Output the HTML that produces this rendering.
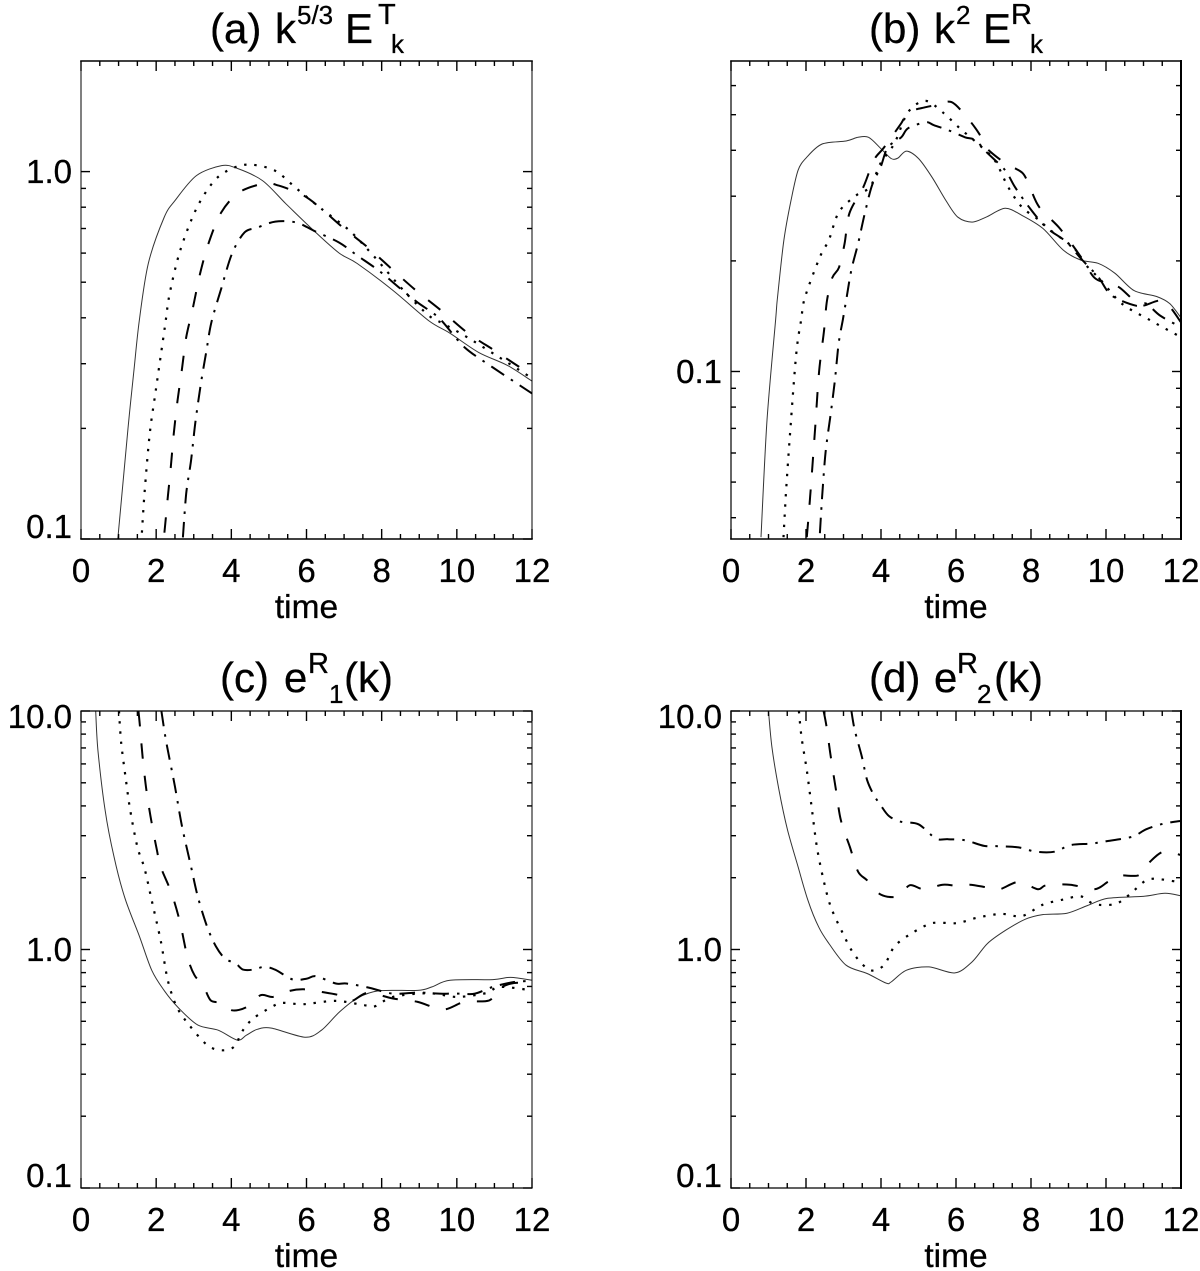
<!DOCTYPE html>
<html lang="en">
<head>
<meta charset="utf-8">
<title>Energy spectra time series</title>
<style>
html,body{margin:0;padding:0;background:#fff;}
svg{display:block;}
text{font-family:"Liberation Sans",Arial,sans-serif;fill:#000;stroke:#000;stroke-width:0.3px;}
.t{font-size:42px;}
.s{font-size:26px;}
.u{font-size:29px;}
</style>
</head>
<body>
<svg id="figure" width="1200" height="1271" viewBox="0 0 1200 1271" xmlns="http://www.w3.org/2000/svg">
<text class="t" y="43"><tspan x="210">(a)</tspan><tspan x="275">k</tspan><tspan class="s" x="297" y="24">5/3</tspan><tspan x="345" y="43">E</tspan><tspan class="u" x="378" y="24">T</tspan><tspan class="s" x="391" y="53">k</tspan></text>
<text class="t" y="43"><tspan x="869">(b)</tspan><tspan x="934">k</tspan><tspan class="s" x="956" y="24">2</tspan><tspan x="983" y="43">E</tspan><tspan class="u" x="1011" y="24">R</tspan><tspan class="s" x="1030" y="53">k</tspan></text>
<text class="t" y="692"><tspan x="220">(c)</tspan><tspan x="284">e</tspan><tspan class="u" x="308" y="673">R</tspan><tspan class="s" x="329" y="703">1</tspan><tspan x="344" y="692">(k)</tspan></text>
<text class="t" y="692"><tspan x="869">(d)</tspan><tspan x="934">e</tspan><tspan class="u" x="957" y="673">R</tspan><tspan class="s" x="977" y="703">2</tspan><tspan x="994" y="692">(k)</tspan></text>
</svg>
<script>
// Shared axis labels
const xTickLabels = [0, 2, 4, 6, 8, 10, 12];
const xMinorTicks = [0.5, 1, 1.5, 2.5, 3, 3.5, 4.5, 5, 5.5, 6.5, 7, 7.5, 8.5, 9, 9.5, 10.5, 11, 11.5];
const xAxisTitle = 'time';

// Panel (a) y ticks
const aYMajor = [0.1, 1];
const aYLabels = ['0.1', '1.0'];
const aYMinor = [0.2, 0.3, 0.4, 0.5, 0.6, 0.7, 0.8, 0.9];

// Panel (a) series
const aSolidT = [0.98, 1.25, 1.4, 1.55, 1.79, 2.21, 2.5, 3.07, 3.74, 4.16, 4.83, 5.45, 6.2, 6.87, 7.35, 8.3, 9.25, 9.82, 10.58, 11.34, 12];
const aSolidV = [0.1, 0.2, 0.282, 0.393, 0.562, 0.75, 0.834, 0.975, 1.038, 1.02, 0.945, 0.818, 0.69, 0.6, 0.562, 0.475, 0.393, 0.363, 0.322, 0.297, 0.269];
const aDotT = [1.62, 1.69, 1.83, 1.99, 2.23, 2.36, 2.64, 3.07, 3.55, 4.02, 4.5, 5.16, 5.73, 6.39, 7.15, 7.82, 8.58, 9.25, 9.63, 10.2, 11.05, 12];
const aDotV = [0.104, 0.133, 0.194, 0.254, 0.377, 0.466, 0.61, 0.793, 0.945, 1.02, 1.045, 1.006, 0.9, 0.793, 0.69, 0.584, 0.475, 0.406, 0.386, 0.358, 0.316, 0.274];
const aDashT = [2.22, 2.31, 2.39, 2.47, 2.57, 2.69, 2.8, 2.98, 3.17, 3.4, 3.73, 4.2, 4.87, 5.26, 5.92, 6.39, 6.97, 7.63, 8.25, 8.91, 9.58, 10.3, 11, 11.71, 12];
const aDashV = [0.104, 0.13, 0.157, 0.194, 0.239, 0.292, 0.354, 0.427, 0.528, 0.641, 0.774, 0.877, 0.928, 0.916, 0.861, 0.793, 0.704, 0.622, 0.545, 0.475, 0.419, 0.363, 0.326, 0.292, 0.284];
const aDashDotT = [2.71, 2.8, 2.93, 3.04, 3.19, 3.34, 3.47, 3.74, 4.02, 4.35, 4.69, 5.17, 5.73, 6.2, 6.87, 7.35, 7.92, 8.49, 8.96, 9.53, 10.2, 10.96, 11.9, 12];
const aDashDotV = [0.101, 0.133, 0.164, 0.207, 0.265, 0.326, 0.389, 0.484, 0.599, 0.683, 0.704, 0.731, 0.727, 0.69, 0.641, 0.591, 0.538, 0.481, 0.44, 0.399, 0.333, 0.293, 0.253, 0.249];

// Panel (b) y ticks
const bYMajor = [0.1];
const bYLabels = ['0.1'];
const bYMinor = [0.04, 0.05, 0.06, 0.07, 0.08, 0.09, 0.2, 0.3, 0.4, 0.5, 0.6];

// Panel (b) series
const bSolidT = [0.8, 0.96, 1.19, 1.24, 1.41, 1.6, 1.79, 2.02, 2.43, 3.07, 3.39, 3.67, 3.99, 4.27, 4.45, 4.68, 5, 5.36, 5.73, 6.05, 6.43, 6.8, 7.31, 7.76, 8.32, 8.86, 9.33, 9.79, 10.24, 10.75, 11.35, 11.7, 12];
const bSolidV = [0.0354, 0.0737, 0.138, 0.159, 0.228, 0.292, 0.353, 0.383, 0.416, 0.424, 0.434, 0.434, 0.405, 0.38, 0.381, 0.398, 0.38, 0.338, 0.292, 0.263, 0.255, 0.263, 0.278, 0.266, 0.245, 0.214, 0.201, 0.197, 0.185, 0.166, 0.16, 0.153, 0.14];
const bDotT = [1.4, 1.47, 1.58, 1.74, 1.87, 1.97, 2.37, 2.61, 2.88, 3.35, 3.71, 3.99, 4.36, 4.72, 5.19, 5.66, 6.1, 6.57, 7.03, 7.39, 7.76, 8.22, 8.5, 9.14, 9.42, 9.87, 10.42, 11.17, 12];
const bDotV = [0.0354, 0.0475, 0.0692, 0.112, 0.138, 0.159, 0.205, 0.228, 0.272, 0.302, 0.318, 0.369, 0.418, 0.508, 0.545, 0.506, 0.459, 0.418, 0.376, 0.318, 0.28, 0.258, 0.243, 0.217, 0.197, 0.177, 0.153, 0.138, 0.124];
const bDashT = [2.02, 2.11, 2.24, 2.35, 2.48, 2.56, 2.7, 2.88, 3.03, 3.16, 3.53, 3.81, 4.08, 4.54, 4.72, 5.19, 5.47, 5.88, 6.29, 6.61, 6.8, 7.31, 7.76, 7.95, 8.22, 8.77, 9.33, 9.69, 10.05, 10.37, 10.8, 10.98, 11.44, 11.7, 12];
const bDashV = [0.0354, 0.0455, 0.0692, 0.1, 0.129, 0.156, 0.18, 0.192, 0.223, 0.27, 0.318, 0.376, 0.407, 0.474, 0.508, 0.524, 0.531, 0.541, 0.492, 0.445, 0.407, 0.369, 0.348, 0.321, 0.28, 0.245, 0.205, 0.18, 0.174, 0.169, 0.154, 0.151, 0.156, 0.15, 0.136];
const bDashDotT = [2.37, 2.43, 2.52, 2.66, 2.77, 2.87, 2.98, 3.07, 3.21, 3.39, 3.57, 3.76, 3.99, 4.18, 4.54, 4.72, 5.19, 5.41, 5.79, 6.24, 6.52, 6.84, 7.31, 7.57, 7.95, 8.4, 8.95, 9.33, 9.79, 10.15, 10.8, 11.07, 11.44, 12];
const bDashDotV = [0.0363, 0.0455, 0.06, 0.077, 0.0946, 0.119, 0.138, 0.156, 0.189, 0.223, 0.27, 0.321, 0.36, 0.407, 0.434, 0.459, 0.477, 0.468, 0.454, 0.434, 0.426, 0.393, 0.353, 0.318, 0.28, 0.247, 0.225, 0.203, 0.181, 0.161, 0.151, 0.153, 0.142, 0.132];

// Panels (c) and (d) y ticks
const cdYMajor = [0.1, 1, 10];
const cdYLabels = ['0.1', '1.0', '10.0'];
const cdYMinor = [0.2, 0.3, 0.4, 0.5, 0.6, 0.7, 0.8, 0.9, 2, 3, 4, 5, 6, 7, 8, 9];

// Panel (c) series
const cSolidT = [0.39, 0.45, 0.64, 0.88, 1.17, 1.56, 1.88, 2.21, 2.6, 3.11, 3.65, 4.16, 4.4, 4.69, 5.07, 5.96, 6.4, 6.87, 7.35, 7.92, 8.96, 9.34, 9.82, 10.96, 11.43, 12];
const cSolidV = [10, 6.85, 3.84, 2.44, 1.64, 1.13, 0.819, 0.674, 0.568, 0.482, 0.459, 0.417, 0.437, 0.463, 0.468, 0.429, 0.459, 0.546, 0.625, 0.671, 0.674, 0.697, 0.743, 0.748, 0.764, 0.743];
const cDotT = [1.01, 1.07, 1.19, 1.31, 1.5, 1.69, 1.88, 2.12, 2.31, 2.55, 2.88, 3.36, 3.74, 4.07, 4.31, 4.59, 5.07, 5.36, 5.92, 6.78, 7.53, 7.82, 8.3, 9.25, 10, 10.77, 11.15, 12];
const cDotV = [10, 7.33, 5.22, 3.84, 2.69, 2.19, 1.61, 1.09, 0.743, 0.574, 0.482, 0.397, 0.378, 0.391, 0.459, 0.515, 0.574, 0.597, 0.59, 0.609, 0.584, 0.578, 0.633, 0.656, 0.633, 0.656, 0.697, 0.674];
const cDashT = [1.53, 1.57, 1.64, 1.74, 1.88, 2.02, 2.12, 2.41, 2.64, 2.83, 3.02, 3.25, 3.45, 3.74, 4.02, 4.4, 4.78, 5.11, 5.54, 5.92, 6.4, 6.87, 7.2, 7.63, 8.3, 8.96, 9.63, 10.2, 10.86, 11.15, 11.52, 12];
const cDashV = [10, 8.57, 6.42, 4.66, 3.39, 2.61, 2.22, 1.72, 1.29, 0.931, 0.78, 0.708, 0.612, 0.597, 0.556, 0.573, 0.643, 0.633, 0.67, 0.681, 0.664, 0.643, 0.609, 0.658, 0.623, 0.603, 0.56, 0.603, 0.612, 0.689, 0.724, 0.72];
const cDashDotT = [2.14, 2.26, 2.5, 2.69, 2.93, 3.11, 3.36, 3.59, 3.83, 4.12, 4.31, 4.59, 4.87, 5.16, 5.64, 6.01, 6.25, 6.78, 7.06, 7.64, 8.3, 8.96, 9.53, 10.1, 10.48, 10.96, 11.52, 12];
const cDashDotV = [10, 7.55, 4.81, 3.27, 2.22, 1.66, 1.24, 1.03, 0.917, 0.873, 0.824, 0.824, 0.845, 0.824, 0.748, 0.755, 0.773, 0.72, 0.72, 0.693, 0.653, 0.66, 0.653, 0.653, 0.653, 0.697, 0.731, 0.738];

// Panel (d) series
const dSolidT = [1, 1.09, 1.28, 1.51, 1.79, 2.05, 2.34, 2.61, 3.07, 3.63, 4.13, 4.27, 4.68, 5.28, 5.97, 6.43, 6.84, 7.31, 7.85, 8.31, 8.96, 9.51, 10.05, 10.98, 11.57, 12];
const dSolidV = [10, 7.07, 4.66, 3.16, 2.22, 1.61, 1.24, 1.06, 0.859, 0.793, 0.724, 0.731, 0.819, 0.845, 0.798, 0.887, 1.06, 1.2, 1.34, 1.4, 1.42, 1.53, 1.64, 1.67, 1.72, 1.68];
const dDotT = [1.81, 1.88, 2.02, 2.15, 2.29, 2.47, 2.66, 2.98, 3.3, 3.71, 4.08, 4.36, 4.82, 5.37, 6.02, 6.57, 7.21, 7.76, 8.31, 8.86, 9.33, 9.69, 10.24, 10.61, 11.07, 11.44, 12];
const dDotV = [10, 7.78, 5.65, 3.96, 2.69, 1.95, 1.51, 1.17, 0.946, 0.819, 0.859, 1.03, 1.17, 1.29, 1.29, 1.36, 1.41, 1.38, 1.54, 1.62, 1.67, 1.55, 1.55, 1.69, 1.95, 1.97, 1.91];
const dDashT = [2.47, 2.55, 2.66, 2.8, 2.93, 3.17, 3.39, 3.63, 3.99, 4.45, 4.77, 5.14, 5.65, 6.02, 6.37, 6.84, 7.17, 7.67, 8.18, 8.41, 9.04, 9.69, 10.05, 10.37, 10.88, 11.17, 11.53, 12];
const dDashV = [10, 8.57, 6.42, 4.66, 3.48, 2.69, 2.12, 1.95, 1.7, 1.67, 1.86, 1.79, 1.87, 1.85, 1.87, 1.82, 1.79, 1.92, 1.79, 1.86, 1.87, 1.79, 1.92, 2.04, 2.05, 2.33, 2.57, 2.49];
const dDashDotT = [3.21, 3.3, 3.49, 3.63, 3.81, 3.99, 4.21, 4.54, 5, 5.46, 5.79, 6.24, 6.75, 7.12, 7.67, 8.13, 8.63, 9.05, 9.6, 10.05, 10.7, 11.07, 11.53, 12];
const dDashDotV = [10, 8.3, 6.42, 5.13, 4.44, 4.03, 3.63, 3.43, 3.35, 2.92, 2.9, 2.87, 2.72, 2.71, 2.68, 2.57, 2.57, 2.74, 2.78, 2.85, 2.97, 3.19, 3.37, 3.46];

const SVGNS = 'http://www.w3.org/2000/svg';
const figure = document.getElementById('figure');

function make(tag, attrs, parent) {
  const el = document.createElementNS(SVGNS, tag);
  for (const k in attrs) el.setAttribute(k, attrs[k]);
  parent.appendChild(el);
  return el;
}

function curvePath(ts, vs, xs, ys) {
  const p = ts.map((t, i) => [xs(t), ys(vs[i])]);
  let d = 'M' + p[0][0].toFixed(1) + ' ' + p[0][1].toFixed(1);
  for (let i = 0; i < p.length - 1; i++) {
    const a = p[Math.max(i - 1, 0)], b = p[i], c = p[i + 1], e = p[Math.min(i + 2, p.length - 1)];
    const c1x = b[0] + (c[0] - a[0]) / 6.5, c1y = b[1] + (c[1] - a[1]) / 6.5;
    const c2x = c[0] - (e[0] - b[0]) / 6.5, c2y = c[1] - (e[1] - b[1]) / 6.5;
    d += 'C' + c1x.toFixed(1) + ' ' + c1y.toFixed(1) + ' ' + c2x.toFixed(1) + ' ' + c2y.toFixed(1) + ' ' + c[0].toFixed(1) + ' ' + c[1].toFixed(1);
  }
  return d;
}

const seriesStyles = {
  solid: { stroke: '#333', width: 1, dash: 'none' },
  dotted: { stroke: '#000', width: 2.2, dash: '2.4 7.8' },
  dashed: { stroke: '#000', width: 2, dash: '15.5 17' },
  dashdot: { stroke: '#000', width: 2, dash: '15.5 8 2.5 8' }
};

function drawPanel(cfg) {
  const g = make('g', {}, figure);
  
  
  const L = cfg.left, R = cfg.right, T = cfg.top, B = cfg.bottom;
  const xs = t => L + (t / 12) * (R - L);
  const ys = v => B - (Math.log10(v) - Math.log10(cfg.yMin)) / (Math.log10(cfg.yMax) - Math.log10(cfg.yMin)) * (B - T);

  const clip = make('clipPath', { id: 'clip-' + cfg.id }, g);
  make('rect', { x: L, y: T, width: R - L, height: B - T }, clip);

  cfg.series.forEach(s => {
    const st = seriesStyles[s.kind];
    const path = make('path', {
      d: curvePath(s.t, s.v, xs, ys), fill: 'none', stroke: st.stroke,
      'stroke-width': st.width, 'stroke-dasharray': st.dash, 'clip-path': 'url(#clip-' + cfg.id + ')'
    }, g);
    
    
  });

  const tickG = make('g', { stroke: '#000', 'stroke-width': 1.4 }, g);
  
  
  xTickLabels.forEach(t => {
    const x = xs(t);
    make('line', { x1: x, x2: x, y1: B, y2: B - 10 }, tickG);
    make('line', { x1: x, x2: x, y1: T, y2: T + 10 }, tickG);
  });
  xMinorTicks.forEach(t => {
    const x = xs(t);
    make('line', { x1: x, x2: x, y1: B, y2: B - 5 }, tickG);
    make('line', { x1: x, x2: x, y1: T, y2: T + 5 }, tickG);
  });
  cfg.yMajor.forEach(v => {
    const y = ys(v);
    make('line', { x1: L, x2: L + 9, y1: y, y2: y }, tickG);
    make('line', { x1: R, x2: R - 9, y1: y, y2: y }, tickG);
  });
  cfg.yMinor.forEach(v => {
    const y = ys(v);
    make('line', { x1: L, x2: L + 5, y1: y, y2: y }, tickG);
    make('line', { x1: R, x2: R - 5, y1: y, y2: y }, tickG);
  });

  const sides = [
    [L, T, R, T, cfg.hWidth], [L, B, R, B, cfg.hWidth],
    [L, T, L, B, cfg.lWidth], [R, T, R, B, cfg.rWidth]
  ];
  sides.forEach(s => {
    const axisLine = make('line', { x1: s[0], y1: s[1], x2: s[2], y2: s[3], stroke: '#000', 'stroke-width': s[4], 'stroke-linecap': 'square' }, g);
    
    
  });

  xTickLabels.forEach(t => {
    const lab = make('text', { x: xs(t), y: B + 43, 'font-size': 33, 'text-anchor': 'middle' }, g);
    
    
    lab.textContent = t;
  });
  cfg.yMajor.forEach((v, i) => {
    let base = ys(v) + 11.5;
    if (base > B) base = B - 1;
    if (base < T + 17) base = T + 17;
    const lab = make('text', { x: L - 9, y: base, 'font-size': 33, 'text-anchor': 'end' }, g);
    
    
    lab.textContent = cfg.yLabels[i];
  });
  const xt = make('text', { x: (L + R) / 2, y: B + 79, 'font-size': 33.5, 'text-anchor': 'middle' }, g);
  
  
  xt.textContent = xAxisTitle;
}

drawPanel({ id: 'a', left: 81, right: 532, top: 61, bottom: 539, yMin: 0.1, yMax: 2, hWidth: 1.6, lWidth: 1, rWidth: 1, yMajor: aYMajor, yLabels: aYLabels, yMinor: aYMinor,
  series: [{ kind: 'solid', t: aSolidT, v: aSolidV }, { kind: 'dotted', t: aDotT, v: aDotV }, { kind: 'dashed', t: aDashT, v: aDashV }, { kind: 'dashdot', t: aDashDotT, v: aDashDotV }] });
drawPanel({ id: 'b', left: 731, right: 1181, top: 61, bottom: 539, yMin: 0.035, yMax: 0.7, hWidth: 1.6, lWidth: 1.2, rWidth: 2, yMajor: bYMajor, yLabels: bYLabels, yMinor: bYMinor,
  series: [{ kind: 'solid', t: bSolidT, v: bSolidV }, { kind: 'dotted', t: bDotT, v: bDotV }, { kind: 'dashed', t: bDashT, v: bDashV }, { kind: 'dashdot', t: bDashDotT, v: bDashDotV }] });
drawPanel({ id: 'c', left: 81, right: 532, top: 711, bottom: 1188, yMin: 0.1, yMax: 10, hWidth: 1.2, lWidth: 1, rWidth: 1, yMajor: cdYMajor, yLabels: cdYLabels, yMinor: cdYMinor,
  series: [{ kind: 'solid', t: cSolidT, v: cSolidV }, { kind: 'dotted', t: cDotT, v: cDotV }, { kind: 'dashed', t: cDashT, v: cDashV }, { kind: 'dashdot', t: cDashDotT, v: cDashDotV }] });
drawPanel({ id: 'd', left: 731, right: 1181, top: 711, bottom: 1188, yMin: 0.1, yMax: 10, hWidth: 1.2, lWidth: 1.2, rWidth: 2, yMajor: cdYMajor, yLabels: cdYLabels, yMinor: cdYMinor,
  series: [{ kind: 'solid', t: dSolidT, v: dSolidV }, { kind: 'dotted', t: dDotT, v: dDotV }, { kind: 'dashed', t: dDashT, v: dDashV }, { kind: 'dashdot', t: dDashDotT, v: dDashDotV }] });
</script>
</body>
</html>
